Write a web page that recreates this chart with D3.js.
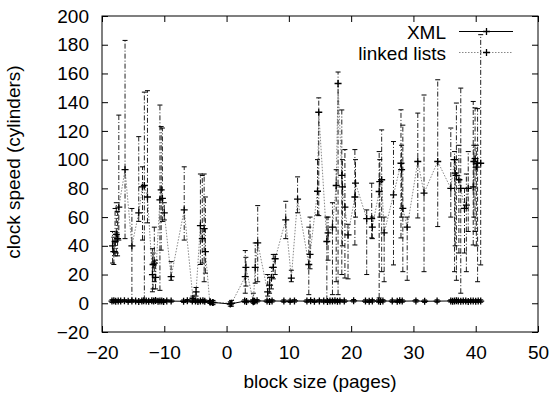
<!DOCTYPE html>
<html>
<head>
<meta charset="utf-8">
<script src="https://cdn.jsdelivr.net/npm/d3@7"></script>
<style>
  body { margin: 0; background: #fff; }
  text { font-family: "Liberation Sans", Arial, sans-serif; }
</style>
</head>
<body>
<div id="chart"></div>
<script>
// linked lists: block size, mean, low, high
var listX  = [-18.3, -18.1, -17.9, -17.7, -17.5, -17.3, -16.3, -15.2, -14.1, -13.5, -13.2, -12.7, -11.9, -11.8, -11.6, -11.4,
  -10.7, -10.5, -10.3, -10.0, -8.9, -6.8, -5.4, -4.9, -4.2, -3.9, -3.6, -3.4, -2.7, -2.2, 0.8, 3.0, 3.1, 4.3, 4.6, 5.0,
  6.6, 6.9, 7.2, 7.5, 7.8, 9.5, 10.4, 11.4, 13.2, 13.4, 14.6, 14.8, 16.1, 16.3, 17.0, 17.6, 17.9, 18.5, 18.6, 19.0, 19.5,
  20.6, 20.7, 22.5, 23.3, 23.4, 24.5, 24.6, 24.9, 25.3, 26.8, 28.0, 28.1, 28.3, 29.0, 30.7, 31.7, 33.9, 36.0, 36.6, 36.7,
  36.9, 37.3, 37.6, 38.2, 38.5, 38.8, 39.6, 39.7, 39.9, 40.1, 40.3, 40.8];
var listY  = [40, 36, 43, 48, 45, 67, 93, 40, 63, 81, 82, 74, 20, 27, 28, 18,
  72, 79, 73, 63, 18.5, 65, 3.5, 8, 54, 45, 52, 36, 1, 0.5, 0, 18.5, 25, 1, 25, 42,
  8, 12.7, 18, 25, 31, 58, 17.5, 72.5, 27, 34, 78, 133, 43, 49, 53, 82, 153, 89, 81, 67, 47.6,
  74, 83.6, 59, 59, 53, 77.8, 84.7, 86, 49, 75.5, 97.5, 93, 66, 53, 98.7, 76.7, 98.7, 80, 100, 90.6,
  89, 86, 80, 66, 68.4, 80, 81, 98.7, 100.7, 94.8, 97.5, 97.5];
var listLo = [28, 27, 33, 35, 33, 44, 45, 1, 57, 44, 2, 56, 8, 10, 15, 10,
  9, 37, 57, 58, 16, 44, 1, 5, 27, 28, 15, 21, 0, -1, -2, 7, 12, 0, 14, 15,
  5, 7, 10, 17, 20, 45, 15, 63, 6, 24, 61.5, 61, 2, 30, 6, 15, 6, 20, 40, 17.6, 17,
  40.6, 60, 20, 45.5, 45, 3.7, 60, 22, 15, 26.7, 45.5, 60, 22, 16, 59.4, 22, 53.4, 60, 22, 40,
  16, 35, 7, 35, 22, 50, 40.6, 60, 50, 40, 15, 26.7];
var listHi = [50, 46, 66, 70, 64, 131, 183, 66, 116, 95, 147, 148, 38, 35, 53, 30,
  138, 123, 122, 70, 29, 95, 5, 11, 90, 89, 90, 74, 2, 2, 2, 36.7, 32, 7, 42, 68,
  20, 18, 25, 34, 34, 71, 23, 88, 53, 60, 100, 143, 60, 60, 70, 93, 161, 134.6, 100, 107, 55,
  107, 100, 65, 83.6, 60, 105.6, 100, 120.7, 60, 112.6, 134.7, 110, 124, 60, 132.4, 145, 155.6, 122, 105.6, 100,
  139.4, 110, 149.8, 80, 90, 105.6, 140.5, 110, 136, 110, 135.5, 187];

// XML: block size, mean, low, high
var xmlX  = [-18.4, -18.1, -17.8, -17.4, -17.0, -16.4, -15.8, -15.2, -14.6, -14.1, -13.6, -13.3, -12.9, -12.5, -12.0,
  -11.7, -11.4, -11.0, -10.7, -10.4, -10.1, -9.6, -8.9, -6.9, -6.3, -5.5, -5.0, -4.6, -4.2, -3.8, -3.5, -2.6, -2.2,
  0.6, 2.9, 3.2, 4.2, 4.5, 4.9, 6.5, 6.9, 7.3, 9.2, 10.2, 10.9, 12.9, 13.5, 14.1, 14.9, 15.6, 16.2, 16.6, 17.0, 17.4,
  17.8, 18.2, 18.9, 20.4, 22.3, 22.9, 23.4, 24.4, 24.7, 25.1, 26.6, 27.4, 27.8, 28.2, 30.4, 31.8, 33.8, 36.0, 36.3,
  36.6, 36.9, 37.2, 37.6, 38.0, 38.4, 38.8, 39.2, 39.6, 40.0, 40.4, 40.8];
var xmlY  = [1.5, 1.8, 1.4, 1.6, 1.5, 1.7, 1.4, 1.6, 1.5, 1.3, 1.6, 1.8, 1.5, 1.4, 1.7,
  1.5, 2.0, 1.4, 1.6, 1.5, 1.3, 1.6, 1.5, 1.4, 1.7, 1.5, 1.6, 1.2, 1.5, 1.8, 1.4, 0.8, 0.6,
  -0.5, 1.5, 1.2, 1.6, 1.4, 1.7, 1.5, 1.3, 1.6, 1.5, 1.4, 1.6, 1.5, 1.7, 1.4, 1.6, 1.5, 1.3, 1.6, 1.5, 1.8,
  1.4, 1.6, 1.5, 1.7, 1.5, 1.4, 1.6, 1.5, 1.3, 1.6, 1.5, 1.4, 1.7, 1.5, 1.6, 1.4, 1.5, 1.6, 1.4,
  1.5, 1.7, 1.5, 1.4, 1.6, 1.5, 1.3, 1.6, 1.5, 1.4, 1.6, 1.5];
var xmlLo = [0.5, 0.9, 0.6, 0.8, 0.7, 1.0, 0.6, 0.8, 0.9, 0.5, 0.7, 1.0, 0.8, 0.6, 0.9,
  0.7, 1.1, 0.6, 0.8, 0.7, 0.5, 0.9, 0.8, 0.6, 0.9, 0.7, 0.8, 0.4, 0.7, 1.0, 0.6, -0.2, -0.6,
  -2.0, 0.7, 0.4, 0.8, 0.6, 0.9, 0.7, 0.5, 0.8, 0.7, 0.6, 0.8, 0.7, 0.9, 0.6, 0.8, 0.7, 0.5, 0.8, 0.7, 1.0,
  0.6, 0.8, 0.7, 0.9, 0.7, 0.6, 0.8, 0.7, 0.5, 0.8, 0.7, 0.6, 0.9, 0.7, 0.8, 0.6, 0.7, 0.8, 0.6,
  0.7, 0.9, 0.7, 0.6, 0.8, 0.7, 0.5, 0.8, 0.7, 0.6, 0.8, 0.7];
var xmlHi = [2.5, 2.7, 2.3, 2.5, 2.4, 2.5, 2.3, 2.5, 2.2, 2.1, 2.5, 2.7, 2.3, 2.3, 2.6,
  2.4, 3.0, 2.3, 2.5, 2.4, 2.2, 2.4, 2.3, 2.3, 2.6, 2.4, 2.5, 2.1, 2.4, 2.7, 2.3, 1.8, 1.7,
  1.0, 2.4, 2.1, 2.5, 2.3, 2.6, 2.4, 2.2, 2.5, 2.4, 2.3, 2.5, 2.4, 2.6, 2.3, 2.5, 2.4, 2.2, 2.5, 2.4, 2.7,
  2.3, 2.5, 2.4, 2.6, 2.4, 2.3, 2.5, 2.4, 2.2, 2.5, 2.4, 2.3, 2.6, 2.4, 2.5, 2.3, 2.4, 2.5, 2.3,
  2.4, 2.6, 2.4, 2.3, 2.5, 2.4, 2.2, 2.5, 2.4, 2.3, 2.5, 2.4];

var xTicks = [-20, -10, 0, 10, 20, 30, 40, 50];
var yTicks = [-20, 0, 20, 40, 60, 80, 100, 120, 140, 160, 180, 200];

var margin = { top: 16, right: 16, bottom: 64, left: 102 },
    width = 554 - margin.left - margin.right,
    height = 396 - margin.top - margin.bottom;

var svg = d3.select("#chart")
  .append("svg")
  .attr("width", 554)
  .attr("height", 396)
  .append("g")
  .attr("transform", "translate(" + margin.left + "," + margin.top + ")");

var x = d3.scaleLinear().domain([-20, 50]).range([0, width]);
var y = d3.scaleLinear().domain([-20, 200]).range([height, 0]);

// axes, ticks inward and mirrored
function styleAxis(g) {
  g.select(".domain").remove();
  g.selectAll("line").attr("stroke", "#000");
  g.selectAll("text").attr("font-size", 19).attr("fill", "#000");
}
svg.append("g")
  .attr("transform", "translate(0," + height + ")")
  .call(d3.axisBottom(x).tickValues(xTicks).tickSize(-6).tickPadding(14))
  .call(styleAxis);
svg.append("g")
  .call(d3.axisTop(x).tickValues(xTicks).tickSize(-6).tickFormat(""))
  .call(styleAxis);
svg.append("g")
  .call(d3.axisLeft(y).tickValues(yTicks).tickSize(-6).tickPadding(13))
  .call(styleAxis);
svg.append("g")
  .attr("transform", "translate(" + width + ",0)")
  .call(d3.axisRight(y).tickValues(yTicks).tickSize(-6).tickFormat(""))
  .call(styleAxis);

svg.append("rect")
  .attr("width", width).attr("height", height)
  .attr("fill", "none").attr("stroke", "#000").attr("stroke-width", 1);

// axis labels
svg.append("text")
  .attr("x", width / 2).attr("y", height + 56)
  .attr("text-anchor", "middle").attr("font-size", 19)
  .text("block size (pages)");
svg.append("text")
  .attr("transform", "translate(" + (-82) + "," + (height / 2 - 12) + ") rotate(-90)")
  .attr("text-anchor", "middle").attr("font-size", 19)
  .text("clock speed (cylinders)");

function zipData(xs, ys, los, his) {
  return xs.map(function(d, i) { return { x: d, y: ys[i], lo: los[i], hi: his[i] }; });
}
var listData = zipData(listX, listY, listLo, listHi);
var xmlData = zipData(xmlX, xmlY, xmlLo, xmlHi);

var line = d3.line()
  .x(function(d) { return x(d.x); })
  .y(function(d) { return y(d.y); });

function drawSeries(data, lineColor, lineDash, barColor, barDash) {
  var g = svg.append("g");
  g.append("path")
    .datum(data)
    .attr("fill", "none")
    .attr("stroke", lineColor)
    .attr("stroke-width", 1)
    .attr("stroke-dasharray", lineDash)
    .attr("d", line);

  // error bars with caps
  g.selectAll(".bar").data(data).enter().append("line")
    .attr("x1", function(d) { return x(d.x); })
    .attr("x2", function(d) { return x(d.x); })
    .attr("y1", function(d) { return y(d.lo); })
    .attr("y2", function(d) { return y(d.hi); })
    .attr("stroke", barColor)
    .attr("stroke-width", 1)
    .attr("stroke-dasharray", barDash);
  ["lo", "hi"].forEach(function(k) {
    g.selectAll(".cap" + k).data(data).enter().append("line")
      .attr("x1", function(d) { return x(d.x) - 2.5; })
      .attr("x2", function(d) { return x(d.x) + 2.5; })
      .attr("y1", function(d) { return y(d[k]); })
      .attr("y2", function(d) { return y(d[k]); })
      .attr("stroke", "#000").attr("stroke-width", 1);
  });

  // "+" markers
  g.selectAll(".pt").data(data).enter().append("path")
    .attr("d", function(d) {
      var cx = x(d.x), cy = y(d.y);
      return "M" + (cx - 3.5) + "," + cy + "H" + (cx + 3.5) + "M" + cx + "," + (cy - 3.5) + "V" + (cy + 3.5);
    })
    .attr("stroke", "#000").attr("stroke-width", 1.3);
}

drawSeries(listData, "#888", "1.5,1.5", "#222", "5,2,1,2");
drawSeries(xmlData, "#000", null, "#000", null);

// legend
var legend = [
  { name: "XML", color: "#000", dash: null, y: 15.5 },
  { name: "linked lists", color: "#888", dash: "1.5,1.5", y: 36.5 }
];
var lg = svg.selectAll(".legend").data(legend).enter().append("g");
lg.append("text")
  .attr("x", 344).attr("y", function(d) { return d.y + 7; })
  .attr("text-anchor", "end").attr("font-size", 19)
  .text(function(d) { return d.name; });
lg.append("line")
  .attr("x1", 357).attr("x2", 411)
  .attr("y1", function(d) { return d.y; }).attr("y2", function(d) { return d.y; })
  .attr("stroke", function(d) { return d.color; })
  .attr("stroke-dasharray", function(d) { return d.dash; });
lg.append("path")
  .attr("d", function(d) { return "M381," + d.y + "H388M384.5," + (d.y - 3.5) + "V" + (d.y + 3.5); })
  .attr("stroke", "#000").attr("stroke-width", 1.3);
</script>
</body>
</html>
